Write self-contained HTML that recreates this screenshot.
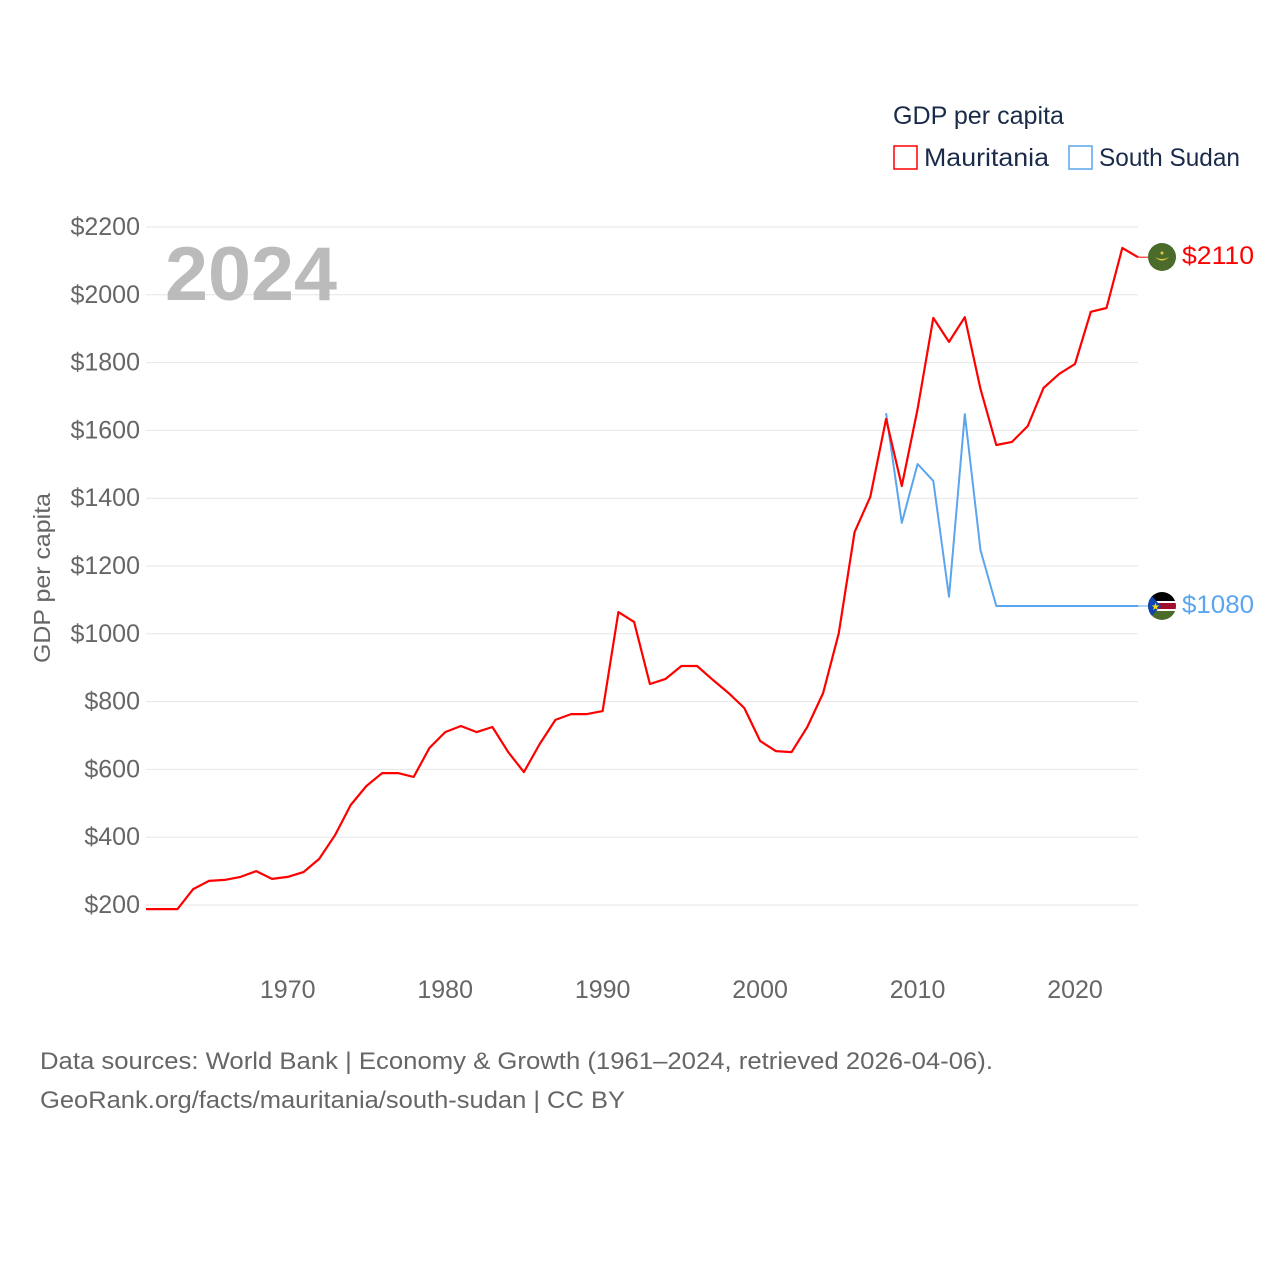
<!DOCTYPE html>
<html><head><meta charset="utf-8">
<style>
html,body{margin:0;padding:0;background:#fff;}
body{width:1280px;height:1280px;overflow:hidden;font-family:"Liberation Sans",sans-serif;}
</style></head>
<body>
<svg id="chart" width="1280" height="1280" xmlns="http://www.w3.org/2000/svg" font-family="Liberation Sans, sans-serif">
<defs>
<clipPath id="c1"><circle cx="1162" cy="257" r="14"/></clipPath>
<clipPath id="c2"><circle cx="1162" cy="606" r="14"/></clipPath>
</defs>
<g id="grid"></g>
<g id="yticks"></g>
<g id="xticks"></g>
<text x="50" y="578" transform="rotate(-90 50 578)" text-anchor="middle" font-size="23" fill="#666" textLength="170" lengthAdjust="spacingAndGlyphs">GDP per capita</text>
<text x="165" y="300" font-size="76" font-weight="bold" fill="#bbb" textLength="172" lengthAdjust="spacingAndGlyphs">2024</text>
<g id="series"></g>
<g>
<text x="893" y="124" font-size="25" fill="#1a2b4a" textLength="171" lengthAdjust="spacingAndGlyphs">GDP per capita</text>
<rect x="894" y="146" width="23" height="23" fill="none" stroke="#f00" stroke-width="1.5"/>
<text x="924" y="166" font-size="25" fill="#1a2b4a" textLength="125" lengthAdjust="spacingAndGlyphs">Mauritania</text>
<rect x="1069" y="146" width="23" height="23" fill="none" stroke="#5aa5ee" stroke-width="1.5"/>
<text x="1099" y="166" font-size="25" fill="#1a2b4a" textLength="141" lengthAdjust="spacingAndGlyphs">South Sudan</text>
</g>
<g clip-path="url(#c1)">
<rect x="1148" y="243" width="28" height="28" fill="#4a6b2a"/>
<path d="M1155 257 q7 7 14 0 q-7 4 -14 0z" fill="#e8c840"/>
<circle cx="1162" cy="253" r="1.5" fill="#e8c840"/>
</g>
<g clip-path="url(#c2)">
<rect x="1148" y="592" width="28" height="9" fill="#000"/>
<rect x="1148" y="601" width="28" height="2" fill="#fff"/>
<rect x="1148" y="603" width="28" height="6" fill="#a0102a"/>
<rect x="1148" y="609" width="28" height="2" fill="#fff"/>
<rect x="1148" y="611" width="28" height="9" fill="#4a6b2a"/>
<path d="M1148 592 L1161 606 L1148 620z" fill="#0f47af"/>
<text x="1151" y="610" font-size="10" fill="#fcdd09">★</text>
</g>
<text x="1182" y="264" font-size="25" fill="#f00" textLength="72" lengthAdjust="spacingAndGlyphs">$2110</text>
<text x="1182" y="613" font-size="25" fill="#5aa5ee" textLength="72" lengthAdjust="spacingAndGlyphs">$1080</text>
<text x="40" y="1069" font-size="24" fill="#666" textLength="953" lengthAdjust="spacingAndGlyphs">Data sources: World Bank | Economy &amp; Growth (1961–2024, retrieved 2026-04-06).</text>
<text x="40" y="1108" font-size="24" fill="#666" textLength="585" lengthAdjust="spacingAndGlyphs">GeoRank.org/facts/mauritania/south-sudan | CC BY</text>
</svg>
<script>
const yTickValues = [200,400,600,800,1000,1200,1400,1600,1800,2000,2200];
const xTickYears = [1970,1980,1990,2000,2010,2020];
const mauritaniaYears = [];
for (let y = 1961; y <= 2024; y++) mauritaniaYears.push(y);
const mauritaniaValues = [188,188,188,247,271,274,283,300,277,283,297,336,406,495,551,589,589,578,663,710,728,710,725,651,592,675,746,763,763,772,1064,1035,852,867,905,905,864,825,781,684,654,651,725,825,1002,1300,1404,1634,1436,1663,1932,1861,1934,1722,1557,1566,1613,1725,1767,1796,1950,1961,2138,2111];
const southSudanYears = [2008,2009,2010,2011,2012,2013,2014,2015,2016,2017,2018,2019,2020,2021,2022,2023,2024];
const southSudanValues = [1651,1327,1501,1451,1109,1648,1247,1082,1082,1082,1082,1082,1082,1082,1082,1082,1082];

const NS = 'http://www.w3.org/2000/svg';
const xScale = yr => 146 + (yr - 1961) * (1138 - 146) / (2024 - 1961);
const yScale = v => 905 - (v - 200) * (905 - 227) / 2000;
function mk(tag, attrs, parent) {
  const e = document.createElementNS(NS, tag);
  for (const k in attrs) e.setAttribute(k, attrs[k]);
  parent.appendChild(e);
  return e;
}
const grid = document.getElementById('grid');
const yt = document.getElementById('yticks');
yTickValues.forEach(v => {
  const l = mk('line', {x1: 146, x2: 1138, y1: yScale(v), y2: yScale(v), stroke: '#e6e6e6', 'stroke-width': 1}, grid);
  
  
  const t = mk('text', {x: 140, y: yScale(v) + 8, 'text-anchor': 'end', 'font-size': 25, fill: '#666'}, yt);
  
  
  t.textContent = '$' + v;
});
const xt = document.getElementById('xticks');
xTickYears.forEach(yr => {
  const t = mk('text', {x: xScale(yr), y: 998, 'text-anchor': 'middle', 'font-size': 25, fill: '#666'}, xt);
  
  
  t.textContent = yr;
});
const ser = document.getElementById('series');
function line(years, vals, color, w, name) {
  const d = years.map((yr, i) => (i ? 'L' : 'M') + xScale(yr).toFixed(1) + ' ' + yScale(vals[i]).toFixed(1)).join(' ');
  const p = mk('path', {d: d, fill: 'none', stroke: color, 'stroke-width': w, 'stroke-linejoin': 'round'}, ser);
  
  
  const last = vals[vals.length - 1];
  const c = mk('line', {x1: xScale(years[years.length - 1]), x2: 1148, y1: yScale(last), y2: yScale(last), stroke: color, 'stroke-width': 1}, ser);
  
  
}
line(southSudanYears, southSudanValues, '#5aa5ee', 2, 'line-south-sudan');
line(mauritaniaYears, mauritaniaValues, '#f00', 2.2, 'line-mauritania');
</script>
</body></html>
